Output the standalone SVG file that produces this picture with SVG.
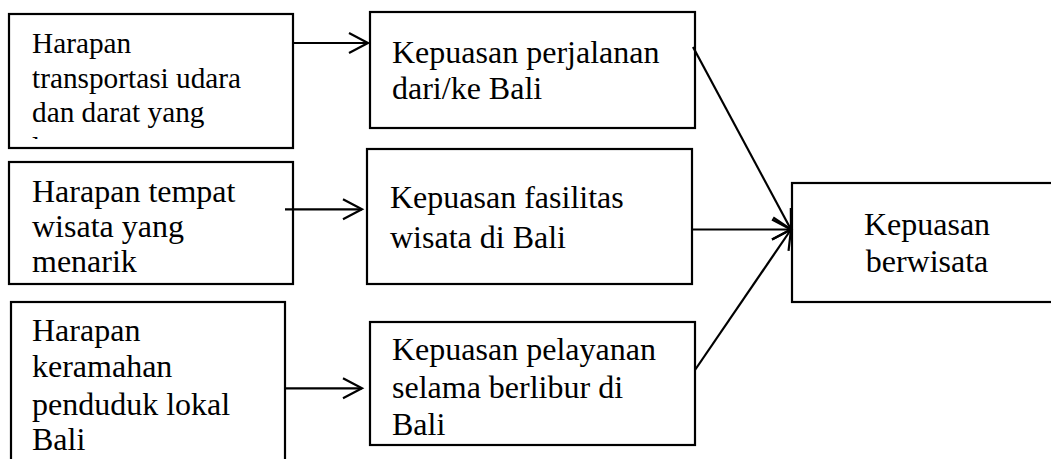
<svg xmlns="http://www.w3.org/2000/svg" width="1051" height="459" viewBox="0 0 1051 459">
<style>
.box{fill:#fff;stroke:#000;stroke-width:2.2}
.t{font-family:"Liberation Serif","Times New Roman",serif;font-size:32px;fill:#000}
.ts{font-family:"Liberation Serif","Times New Roman",serif;font-size:29.3px;fill:#000}
.c{fill:none;stroke:#000;stroke-width:2.2}
</style>
<defs>
<marker id="ah" markerUnits="userSpaceOnUse" markerWidth="24" markerHeight="24" refX="19" refY="10" orient="auto" overflow="visible">
<path d="M0,0 L19,10 L0,20" fill="none" stroke="#000" stroke-width="2.2" stroke-linejoin="miter"/>
</marker>
<clipPath id="clipL1"><rect x="9" y="14" width="284" height="125"/></clipPath>
</defs>
<rect width="1051" height="459" fill="#fff"/>
<g id="node-harapan-transportasi">
<rect class="box" x="9" y="14" width="284" height="134"/>
<g clip-path="url(#clipL1)">
<text class="ts" x="32" y="53">Harapan</text>
<text class="ts" x="32" y="87.5">transportasi udara</text>
<text class="ts" x="32" y="122">dan darat yang</text>
<text class="ts" x="32" y="156.5">lancar</text>
</g>
</g>
<g id="node-harapan-tempat">
<rect class="box" x="9" y="162" width="284" height="122"/>
<text class="t" x="32" y="201.5">Harapan tempat</text>
<text class="t" x="32" y="236.5">wisata yang</text>
<text class="t" x="32" y="271.5">menarik</text>
</g>
<g id="node-harapan-keramahan">
<rect class="box" x="11" y="302" width="274" height="170"/>
<text class="t" x="32" y="340.5">Harapan</text>
<text class="t" x="32" y="377">keramahan</text>
<text class="t" x="32" y="414.5">penduduk lokal</text>
<text class="t" x="32" y="450">Bali</text>
</g>
<g id="node-kepuasan-perjalanan">
<rect class="box" x="370" y="12" width="325" height="116"/>
<text class="t" x="392" y="63">Kepuasan perjalanan</text>
<text class="t" x="392" y="98.5">dari/ke Bali</text>
</g>
<g id="node-kepuasan-fasilitas">
<rect class="box" x="367" y="149" width="325" height="135"/>
<text class="t" x="390" y="208">Kepuasan fasilitas</text>
<text class="t" x="390" y="248">wisata di Bali</text>
</g>
<g id="node-kepuasan-pelayanan">
<rect class="box" x="370" y="322" width="325" height="123"/>
<text class="t" x="392" y="360">Kepuasan pelayanan</text>
<text class="t" x="392" y="398">selama berlibur di</text>
<text class="t" x="392" y="435">Bali</text>
</g>
<g id="node-kepuasan-berwisata">
<rect class="box" x="792" y="183" width="275" height="119"/>
<text class="t" x="927" y="235" text-anchor="middle">Kepuasan</text>
<text class="t" x="927" y="271.5" text-anchor="middle">berwisata</text>
</g>
<g id="connectors">
<line class="c" x1="293" y1="43" x2="368" y2="43" marker-end="url(#ah)"/>
<line class="c" x1="285" y1="209.3" x2="362" y2="209.3" marker-end="url(#ah)"/>
<line class="c" x1="285" y1="388.3" x2="362" y2="388.3" marker-end="url(#ah)"/>
<line class="c" x1="693" y1="47" x2="791" y2="229.5" marker-end="url(#ah)"/>
<line class="c" x1="692" y1="229.5" x2="791" y2="229.5" marker-end="url(#ah)"/>
<line class="c" x1="695" y1="370" x2="791" y2="229.5" marker-end="url(#ah)"/>
</g>
</svg>
